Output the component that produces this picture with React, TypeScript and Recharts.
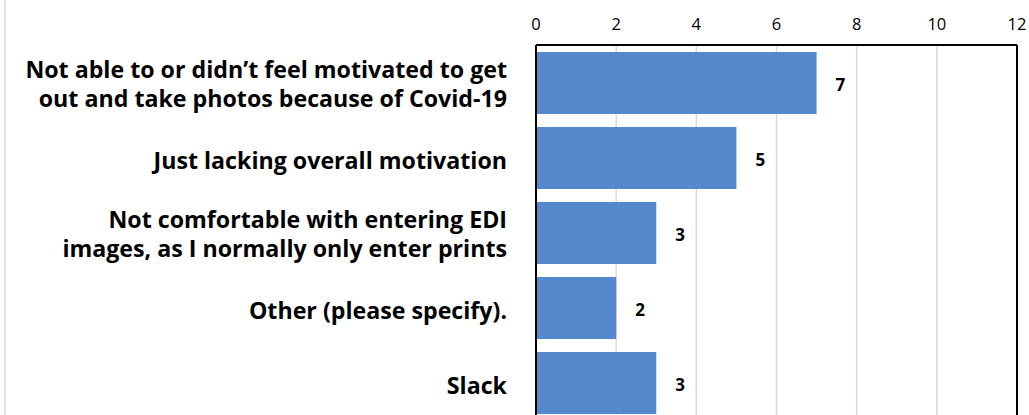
import React from "react";
import { BarChart, Bar, XAxis, YAxis, CartesianGrid, LabelList, ReferenceLine } from "recharts";

const categories: string[] = [
  "Not able to or didn’t feel motivated to get\nout and take photos because of Covid-19",
  "Just lacking overall motivation",
  "Not comfortable with entering EDI\nimages, as I normally only enter prints",
  "Other (please specify).",
  "Slack",
];
const counts: number[] = [7, 5, 3, 2, 3];
const xTicks: number[] = [0, 2, 4, 6, 8, 10, 12];

const data = categories.map((name, i) => ({ name, value: counts[i] }));

const FONT = "'Open Sans', sans-serif";

const CategoryTick = (props: any) => {
  const { x, y, payload } = props;
  const lines: string[] = String(payload.value).split("\n");
  const lh = 29;
  const start = -((lines.length - 1) * lh) / 2;
  const off = lines.length > 1 ? 10 : 11.5;
  return (
    <text x={x} y={y} textAnchor="end" fontFamily={FONT} fontWeight={700} fontSize={23.2} fill="#000">
      {lines.map((l, i) => (
        <tspan key={i} x={x} dy={i === 0 ? start + off : lh}>
          {l}
        </tspan>
      ))}
    </text>
  );
};

const ValueLabel = (props: any) => {
  const { x, y, width, height, value } = props;
  return (
    <text
      x={x + width + 19}
      y={y + height / 2 + 8}
      textAnchor="start"
      fontFamily={FONT}
      fontWeight={700}
      fontSize={17}
      fill="#000"
    >
      {value}
    </text>
  );
};

export default function App() {
  return (
    <div
      style={{
        position: "fixed",
        left: 0,
        top: 0,
        width: 1029,
        height: 415,
        overflow: "hidden",
        background: "#fff",
      }}
    >
      <div
        style={{ position: "absolute", left: 4, top: 0, width: 2, height: 415, background: "#e3e3e3" }}
      />
      <BarChart
        width={1029}
        height={440}
        data={data}
        layout="vertical"
        margin={{ top: 15, right: 12, bottom: 20, left: 0 }}
        barSize={62}
      >
        <CartesianGrid horizontal={false} stroke="#d9d9d9" strokeWidth={1.5} />
        <XAxis
          type="number"
          orientation="top"
          domain={[0, 12]}
          ticks={xTicks}
          height={30}
          tickSize={0}
          tickMargin={15}
          axisLine={{ stroke: "#000", strokeWidth: 2 }}
          tickLine={false}
          tick={{ fontFamily: FONT, fontSize: 16.5, fill: "#000" }}
        />
        <YAxis
          type="category"
          dataKey="name"
          width={536}
          tickSize={0}
          tickMargin={29}
          axisLine={{ stroke: "#000", strokeWidth: 2 }}
          tickLine={false}
          tick={<CategoryTick />}
          interval={0}
        />
        <ReferenceLine x={12} stroke="#000" strokeWidth={2} />
        <Bar dataKey="value" fill="#5588CC" isAnimationActive={false}>
          <LabelList dataKey="value" content={<ValueLabel />} />
        </Bar>
      </BarChart>
    </div>
  );
}
